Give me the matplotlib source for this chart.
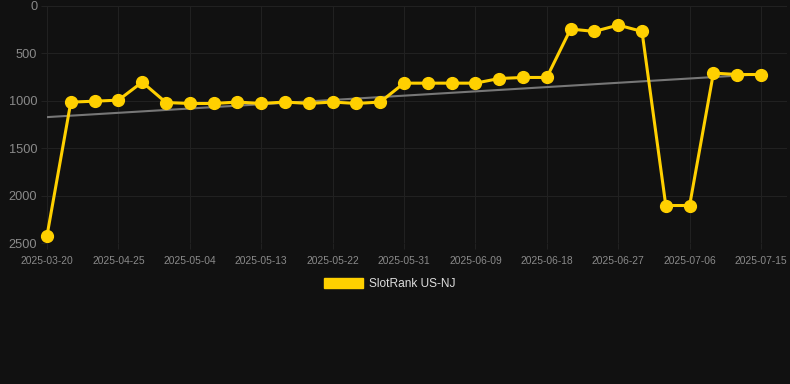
import numpy as np
import matplotlib
matplotlib.use("Agg")
from matplotlib import pyplot as plt
from matplotlib.patches import Rectangle

dates = ['2025-03-20', '2025-04-19', '2025-04-22', '2025-04-25', '2025-04-28',
         '2025-05-01', '2025-05-04', '2025-05-07', '2025-05-10', '2025-05-13',
         '2025-05-16', '2025-05-19', '2025-05-22', '2025-05-25', '2025-05-28',
         '2025-05-31', '2025-06-03', '2025-06-06', '2025-06-09', '2025-06-12',
         '2025-06-15', '2025-06-18', '2025-06-21', '2025-06-24', '2025-06-27',
         '2025-06-30', '2025-07-03', '2025-07-06', '2025-07-09', '2025-07-12',
         '2025-07-15']
rank = [2423, 1016, 1006, 995, 805,
        1020, 1030, 1030, 1015, 1030,
        1015, 1030, 1015, 1030, 1015,
        816, 816, 816, 816, 767,
        756, 756, 246, 271, 204,
        271, 2105, 2105, 710, 725,
        725]
series_name = 'SlotRank US-NJ'

bg = '#111111'
gold = '#FFD000'

plt.rcParams['font.family'] = ['Liberation Sans', 'DejaVu Sans']
fig = plt.figure(figsize=(7.9, 3.84), dpi=100, facecolor=bg)
ax = fig.add_axes([47/790, 1 - 243/384, (787 - 47)/790, (243 - 5.7)/384])
ax.set_facecolor(bg)

x = np.arange(len(rank))

# trend line (least squares)
k, b = np.polyfit(x, rank, 1)
ax.plot([x[0], x[-1]], [k*x[0] + b, k*x[-1] + b], color='#777777', lw=1.5, zorder=2)

ax.plot(x, rank, color=gold, lw=2.2, marker='o', ms=8.5, zorder=3, clip_on=False)

ax.set_ylim(2500, 0)
ax.set_xlim(0, (787 - 47) / (714 / 30))
ax.set_yticks([0, 500, 1000, 1500, 2000, 2500])
ax.set_xticks(x[::3])
ax.set_xticklabels(dates[::3])

ax.grid(True, color='#212121', lw=0.8)
for s in ax.spines.values():
    s.set_visible(False)
ax.tick_params(axis='y', length=4, color='#212121', labelcolor='#8a8a8a', labelsize=9.2, pad=3)
ax.tick_params(axis='x', length=4, color='#212121', labelcolor='#8a8a8a', labelsize=7.4, pad=5)

handle = Rectangle((0, 0), 1, 1, facecolor=gold, edgecolor=gold)
leg = fig.legend([handle], [series_name], loc='center', bbox_to_anchor=(390/790, 1 - 284/384),
                 frameon=False, fontsize=8.6, handlelength=3.3, handleheight=0.9,
                 handletextpad=0.5)
for t in leg.get_texts():
    t.set_color('#dddddd')

fig.savefig('out.png', dpi=100, facecolor=bg)
